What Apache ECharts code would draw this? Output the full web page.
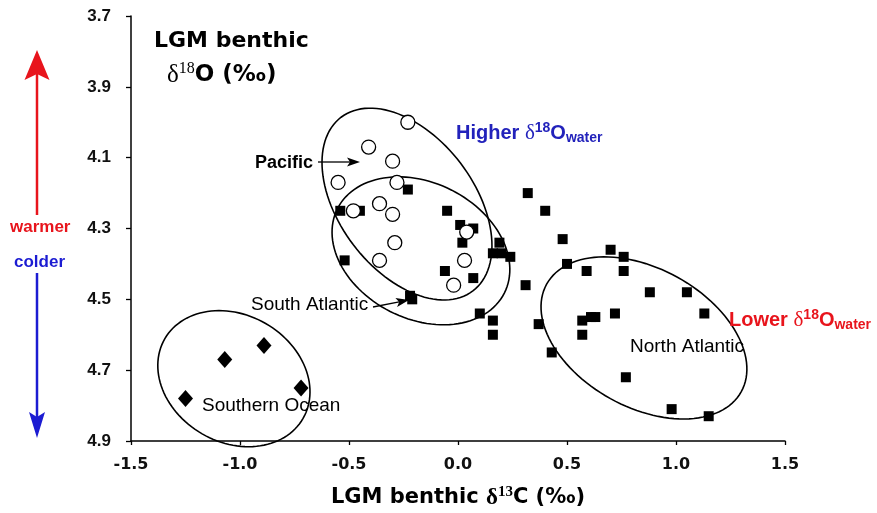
<!DOCTYPE html>
<html>
<head>
<meta charset="utf-8">
<script src="https://cdn.jsdelivr.net/npm/echarts@6/dist/echarts.min.js"></script>
<style>
html, body { margin: 0; padding: 0; background: #fff; }
#chart { width: 877px; height: 513px; }
</style>
</head>
<body>
<div id="chart"></div>
<script>
// axis ticks
var xTicks = [-1.5, -1.0, -0.5, 0.0, 0.5, 1.0, 1.5];
var yTicks = [3.7, 3.9, 4.1, 4.3, 4.5, 4.7, 4.9];

// [d13C, d18O]
var pacificCircles = [
    [-0.23, 4.00], [-0.41, 4.07], [-0.30, 4.11], [-0.55, 4.17], [-0.28, 4.17],
    [-0.48, 4.25], [-0.36, 4.23], [-0.30, 4.26], [0.04, 4.31], [-0.29, 4.34],
    [-0.36, 4.39], [0.03, 4.39], [-0.02, 4.46]
];
var atlanticSquares = [
    [-0.23, 4.19], [-0.54, 4.25], [-0.45, 4.25], [-0.05, 4.25], [0.01, 4.29],
    [0.07, 4.30], [0.02, 4.34], [0.19, 4.34], [0.16, 4.37], [0.20, 4.37],
    [0.24, 4.38], [-0.52, 4.39], [-0.06, 4.42], [0.07, 4.44], [-0.22, 4.49],
    [-0.21, 4.50], [0.10, 4.54], [0.16, 4.56], [0.16, 4.60], [0.32, 4.20],
    [0.40, 4.25], [0.48, 4.33], [0.50, 4.40], [0.59, 4.42], [0.31, 4.46],
    [0.37, 4.57], [0.57, 4.56], [0.61, 4.55], [0.63, 4.55], [0.57, 4.60],
    [0.43, 4.65], [0.70, 4.36], [0.76, 4.38], [0.76, 4.42], [0.88, 4.48],
    [1.05, 4.48], [0.72, 4.54], [1.13, 4.54], [0.77, 4.72], [0.98, 4.81],
    [1.15, 4.83]
];
var southernDiamonds = [
    [-0.89, 4.63], [-1.07, 4.67], [-0.72, 4.75], [-1.25, 4.78]
];

// groups: centre [d13C, d18O], half axes in d13C units, tilt (deg)
var groupNames = ['Pacific', 'South Atlantic', 'North Atlantic', 'Southern Ocean'];
var groupCentres = [[-0.234, 4.231], [-0.170, 4.363], [0.853, 4.609], [-1.028, 4.724]];
var groupAxes = [[0.50, 0.309], [0.429, 0.312], [0.510, 0.318], [0.366, 0.292]];
var groupTilt = [52.8, 26.9, 28.9, 29.9];

var RED = '#e8141c';
var BLUE = '#1c1cd2';

function arrow(x1, y1, x2, y2, color, lw, hl, hw, notch) {
    var dx = x2 - x1, dy = y2 - y1, len = Math.sqrt(dx * dx + dy * dy);
    var ux = dx / len, uy = dy / len, px = -uy, py = ux;
    var bx = x2 - ux * hl, by = y2 - uy * hl;
    var nx = x2 - ux * (hl - notch), ny = y2 - uy * (hl - notch);
    return [
        { type: 'line', shape: { x1: x1, y1: y1, x2: nx, y2: ny }, style: { stroke: color, lineWidth: lw } },
        {
            type: 'polygon',
            shape: { points: [[x2, y2], [bx + px * hw / 2, by + py * hw / 2], [nx, ny], [bx - px * hw / 2, by - py * hw / 2]] },
            style: { fill: color }
        }
    ];
}

function label(x, y, text, font, color, rich) {
    return {
        type: 'text', x: x, y: y, z: 10,
        style: { text: text, font: font, fill: color, verticalAlign: 'middle', rich: rich }
    };
}

function isoRich(color, size) {
    return {
        b: { fontSize: size, fontWeight: 'bold', fontFamily: 'Liberation Sans', fill: color, lineHeight: 24 },
        d: { fontSize: size + 1, fontFamily: 'Liberation Serif', fill: color, lineHeight: 24 },
        s: { fontSize: 14, fontWeight: 'bold', fontFamily: 'Liberation Sans', fill: color, lineHeight: 14, verticalAlign: 'top' },
        w: { fontSize: 14, fontWeight: 'bold', fontFamily: 'Liberation Sans', fill: color, lineHeight: 14, verticalAlign: 'bottom' }
    };
}

var myChart = echarts.init(document.getElementById('chart'));

var graphics = []
    .concat(arrow(37, 215, 37, 50, RED, 2.5, 30, 25, 6))
    .concat(arrow(37, 273, 37, 438, BLUE, 2.5, 26, 16, 5))
    .concat(arrow(318, 162, 360, 162, '#000', 1.3, 13, 9, 3))
    .concat(arrow(373, 307, 409, 300, '#000', 1.3, 13, 9, 3));

graphics.push(
    label(154, 41, 'LGM benthic', 'bold 22px "DejaVu Sans"', '#000'),
    label(167, 75, '{d|δ}{s|18}{b|O (‰)}', 'bold 23px "DejaVu Sans"', '#000', {
        d: { fontSize: 25, fontFamily: 'Liberation Serif', lineHeight: 28 },
        s: { fontSize: 16, fontFamily: 'Liberation Serif', lineHeight: 20, verticalAlign: 'top' },
        b: { fontSize: 23, fontWeight: 'bold', fontFamily: 'DejaVu Sans', lineHeight: 28 }
    }),
    label(10, 227, 'warmer', 'bold 17px "Liberation Sans"', RED),
    label(14, 262, 'colder', 'bold 17px "Liberation Sans"', BLUE),
    label(255, 163, 'Pacific', 'bold 18px "Liberation Sans"', '#000'),
    label(251, 305, 'South Atlantic', '19px "Liberation Sans"', '#000'),
    label(202, 406, 'Southern Ocean', '19px "Liberation Sans"', '#000'),
    label(630, 347, 'North Atlantic', '19px "Liberation Sans"', '#000'),
    label(456, 133, '{b|Higher }{d|δ}{s|18}{b|O}{w|water}', 'bold 20px "Liberation Sans"', '#2222bb', isoRich('#2222bb', 20)),
    label(729, 320, '{b|Lower }{d|δ}{s|18}{b|O}{w|water}', 'bold 20px "Liberation Sans"', RED, isoRich(RED, 20))
);

var option = {
    animation: false,
    backgroundColor: '#fff',
    grid: { left: 131, right: 92, top: 16, bottom: 72, containLabel: false, outerBoundsMode: 'none' },
    xAxis: {
        type: 'value',
        min: xTicks[0],
        max: xTicks[xTicks.length - 1],
        interval: +(xTicks[1] - xTicks[0]).toFixed(2),
        name: 'LGM benthic {d|δ}{s|13}{b|C (‰)}',
        nameLocation: 'middle',
        nameGap: 44,
        nameTextStyle: {
            fontFamily: 'DejaVu Sans', fontWeight: 'bold', fontSize: 21, color: '#000',
            rich: {
                d: { fontFamily: 'Liberation Serif', fontSize: 23, color: '#000', lineHeight: 26 },
                s: { fontFamily: 'Liberation Serif', fontSize: 15, color: '#000', lineHeight: 18, verticalAlign: 'top' },
                b: { fontFamily: 'DejaVu Sans', fontWeight: 'bold', fontSize: 21, color: '#000', lineHeight: 26 }
            }
        },
        splitLine: { show: false },
        axisLine: { onZero: false, lineStyle: { color: '#000', width: 1.5 } },
        axisTick: { length: 4, lineStyle: { color: '#000', width: 1.3 } },
        axisLabel: {
            margin: 16, color: '#111', fontFamily: 'DejaVu Sans', fontWeight: 'bold', fontSize: 16,
            formatter: function (v) { return v.toFixed(1); }
        }
    },
    yAxis: {
        type: 'value',
        inverse: true,
        min: yTicks[0],
        max: yTicks[yTicks.length - 1],
        interval: +(yTicks[1] - yTicks[0]).toFixed(2),
        splitLine: { show: false },
        axisLine: { show: true, onZero: false, lineStyle: { color: '#000', width: 1.5 } },
        axisTick: { show: true, length: 5, lineStyle: { color: '#000', width: 1.3 } },
        axisLabel: {
            margin: 20, color: '#111', fontFamily: 'Liberation Sans', fontWeight: 'bold', fontSize: 17,
            formatter: function (v) { return v.toFixed(1); }
        }
    },
    series: [
        {
            name: 'groups',
            type: 'custom',
            clip: false,
            silent: true,
            z: 1,
            data: groupCentres,
            encode: { x: 0, y: 1 },
            renderItem: function (params, api) {
                var i = params.dataIndex;
                var c = api.coord(groupCentres[i]);
                var a = api.size([groupAxes[i][0], 0])[0];
                var b = api.size([groupAxes[i][1], 0])[0];
                var t = groupTilt[i] * Math.PI / 180;
                var pts = [];
                for (var k = 0; k <= 120; k++) {
                    var p = k / 120 * 2 * Math.PI;
                    pts.push([
                        c[0] + a * Math.cos(p) * Math.cos(t) - b * Math.sin(p) * Math.sin(t),
                        c[1] + a * Math.cos(p) * Math.sin(t) + b * Math.sin(p) * Math.cos(t)
                    ]);
                }
                return { type: 'polygon', shape: { points: pts }, style: { fill: 'none', stroke: '#000', lineWidth: 1.6 } };
            }
        },
        {
            name: 'Atlantic',
            type: 'scatter',
            symbol: 'rect',
            symbolSize: 10,
            z: 2,
            itemStyle: { color: '#000', opacity: 1 },
            data: atlanticSquares
        },
        {
            name: 'Pacific',
            type: 'scatter',
            symbol: 'circle',
            symbolSize: 14,
            z: 3,
            itemStyle: { color: '#fff', borderColor: '#000', borderWidth: 1.3, opacity: 1 },
            data: pacificCircles
        },
        {
            name: 'Southern Ocean',
            type: 'scatter',
            symbol: 'diamond',
            symbolSize: [15, 17],
            z: 3,
            itemStyle: { color: '#000', opacity: 1 },
            data: southernDiamonds
        }
    ],
    graphic: graphics
};
myChart.setOption(option);
</script>
</body>
</html>
